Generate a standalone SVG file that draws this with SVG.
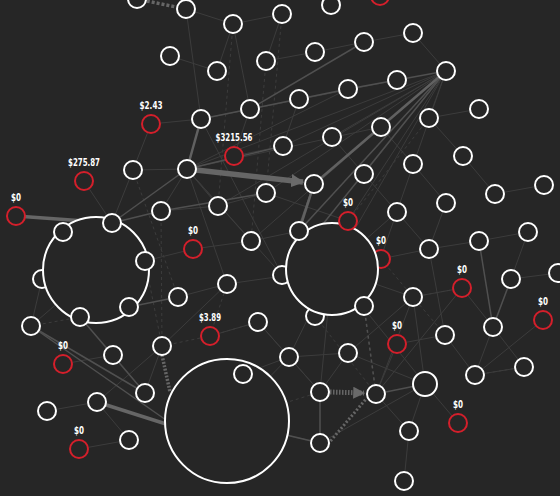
<svg xmlns="http://www.w3.org/2000/svg" width="560" height="496" viewBox="0 0 560 496">
<style>
.bg{fill:#262626}
.n circle{fill:#262626;stroke:#ffffff;stroke-width:2}
.r circle{fill:#262626;stroke:#d41f2b;stroke-width:2}
.big circle{fill:#262626;stroke:#ffffff;stroke-width:2}
.lbl{font-family:"DejaVu Sans Condensed","DejaVu Sans",sans-serif;font-weight:bold;font-size:11px;fill:#ffffff;text-anchor:middle}
.e1{stroke:#3c3c3c;stroke-width:1;fill:none}
.e2{stroke:#505050;stroke-width:1.5;fill:none}
.e3{stroke:#616161;stroke-width:2.5;fill:none}
.e4{stroke:#666666;stroke-width:3.5;fill:none}
.d{stroke-dasharray:3 3}
</style>
<defs>
<marker id="arr" viewBox="0 0 10 10" refX="9" refY="5" markerWidth="2.4" markerHeight="2.4" orient="auto">
<path d="M0,0 L10,5 L0,10 z" fill="#6a6a6a"/>
</marker>
</defs>
<rect class="bg" x="0" y="0" width="560" height="496"/>
<g id="connectors">
<!-- faint -->
<line class="e1" x1="186" y1="9" x2="233" y2="24"/>
<line class="e1" x1="233" y1="24" x2="282" y2="14"/>
<line class="e1" x1="282" y1="14" x2="266" y2="61"/>
<line class="e1" x1="266" y1="61" x2="315" y2="52"/>
<line class="e1" x1="315" y1="52" x2="364" y2="42"/>
<line class="e1" x1="364" y1="42" x2="413" y2="33"/>
<line class="e1" x1="170" y1="56" x2="217" y2="71"/>
<line class="e1" x1="217" y1="71" x2="233" y2="24"/>
<line class="e1" x1="186" y1="9" x2="201" y2="119"/>
<line class="e1" x1="151" y1="124" x2="201" y2="119"/>
<line class="e1" x1="133" y1="170" x2="151" y2="124"/>
<line class="e1" x1="112" y1="223" x2="133" y2="170"/>
<line class="e1" x1="84" y1="181" x2="112" y2="223"/>
<line class="e1" x1="233" y1="24" x2="250" y2="109"/>
<line class="e1 d" x1="233" y1="24" x2="218" y2="206"/>
<line class="e1 d" x1="282" y1="14" x2="266" y2="193"/>
<line class="e1 d" x1="266" y1="61" x2="251" y2="241"/>
<line class="e1" x1="429" y1="118" x2="479" y2="109"/>
<line class="e1" x1="429" y1="118" x2="463" y2="156"/>
<line class="e1" x1="463" y1="156" x2="495" y2="194"/>
<line class="e1" x1="495" y1="194" x2="544" y2="185"/>
<line class="e1" x1="413" y1="164" x2="446" y2="203"/>
<line class="e1" x1="446" y1="203" x2="429" y2="249"/>
<line class="e1" x1="429" y1="249" x2="479" y2="241"/>
<line class="e1" x1="479" y1="241" x2="528" y2="232"/>
<line class="e1" x1="528" y1="232" x2="511" y2="279"/>
<line class="e1" x1="511" y1="279" x2="558" y2="273"/>
<line class="e1" x1="413" y1="297" x2="462" y2="288"/>
<line class="e1" x1="462" y1="288" x2="493" y2="327"/>
<line class="e1" x1="445" y1="335" x2="475" y2="375"/>
<line class="e1" x1="475" y1="375" x2="524" y2="367"/>
<line class="e1" x1="493" y1="327" x2="524" y2="367"/>
<line class="e1" x1="493" y1="327" x2="475" y2="375"/>
<line class="e1" x1="425" y1="384" x2="409" y2="431"/>
<line class="e1" x1="425" y1="384" x2="458" y2="423"/>
<line class="e1" x1="409" y1="431" x2="404" y2="481"/>
<line class="e1" x1="348" y1="353" x2="413" y2="297"/>
<line class="e1" x1="348" y1="353" x2="289" y2="357"/>
<line class="e1" x1="289" y1="357" x2="258" y2="322"/>
<line class="e1" x1="258" y1="322" x2="210" y2="336"/>
<line class="e1" x1="243" y1="374" x2="289" y2="357"/>
<line class="e1" x1="364" y1="174" x2="397" y2="212"/>
<line class="e1" x1="397" y1="212" x2="429" y2="249"/>
<line class="e1" x1="381" y1="127" x2="413" y2="164"/>
<line class="e1" x1="332" y1="137" x2="364" y2="174"/>
<line class="e1" x1="348" y1="353" x2="425" y2="384"/>
<line class="e1" x1="445" y1="335" x2="397" y2="344"/>
<line class="e1" x1="397" y1="344" x2="376" y2="394"/>
<line class="e1" x1="429" y1="249" x2="445" y2="335"/>
<line class="e1" x1="413" y1="297" x2="425" y2="384"/>
<line class="e1" x1="543" y1="320" x2="475" y2="375"/>
<line class="e1" x1="129" y1="440" x2="97" y2="402"/>
<line class="e1" x1="47" y1="411" x2="97" y2="402"/>
<line class="e1" x1="79" y1="449" x2="129" y2="440"/>
<line class="e1" x1="63" y1="364" x2="113" y2="355"/>
<line class="e1" x1="113" y1="355" x2="145" y2="393"/>
<line class="e1" x1="145" y1="393" x2="162" y2="346"/>
<line class="e1" x1="31" y1="326" x2="42" y2="279"/>
<line class="e1" x1="162" y1="346" x2="227" y2="284"/>
<line class="e1" x1="178" y1="297" x2="227" y2="284"/>
<line class="e1" x1="145" y1="261" x2="193" y2="249"/>
<line class="e1" x1="193" y1="249" x2="251" y2="241"/>
<line class="e1" x1="161" y1="211" x2="218" y2="206"/>
<line class="e1" x1="218" y1="206" x2="266" y2="193"/>
<line class="e1" x1="251" y1="241" x2="299" y2="231"/>
<line class="e1" x1="299" y1="99" x2="283" y2="146"/>
<line class="e1" x1="283" y1="146" x2="234" y2="156"/>
<line class="e1" x1="250" y1="109" x2="234" y2="156"/>
<line class="e1" x1="429" y1="118" x2="446" y2="71"/>
<line class="e1" x1="413" y1="33" x2="446" y2="71"/>
<line class="e1" x1="446" y1="71" x2="364" y2="306"/>
<line class="e1" x1="446" y1="71" x2="299" y2="231"/>
<line class="e1" x1="446" y1="71" x2="251" y2="241"/>
<line class="e1" x1="446" y1="71" x2="266" y2="193"/>
<line class="e1" x1="446" y1="71" x2="218" y2="206"/>
<line class="e1" x1="446" y1="71" x2="332" y2="137"/>
<line class="e1" x1="446" y1="71" x2="364" y2="174"/>
<line class="e1" x1="446" y1="71" x2="348" y2="221"/>
<line class="e1" x1="446" y1="71" x2="381" y2="127"/>
<line class="e1" x1="446" y1="71" x2="187" y2="169"/>
<line class="e1" x1="446" y1="71" x2="283" y2="146"/>
<line class="e1" x1="446" y1="71" x2="332" y2="269"/>
<line class="e1" x1="201" y1="119" x2="282" y2="275"/>
<line class="e1" x1="187" y1="169" x2="282" y2="275"/>
<line class="e1" x1="187" y1="169" x2="227" y2="284"/>
<line class="e1" x1="187" y1="169" x2="251" y2="241"/>
<line class="e1" x1="187" y1="169" x2="218" y2="206"/>
<line class="e1" x1="187" y1="169" x2="161" y2="211"/>
<line class="e1" x1="133" y1="170" x2="187" y2="169"/>
<line class="e1" x1="187" y1="169" x2="348" y2="89"/>
<line class="e1" x1="187" y1="169" x2="381" y2="127"/>
<line class="e1" x1="201" y1="119" x2="397" y2="80"/>
<line class="e1" x1="266" y1="193" x2="348" y2="221"/>
<line class="e1" x1="299" y1="231" x2="348" y2="221"/>
<line class="e1" x1="332" y1="269" x2="413" y2="297"/>
<line class="e1" x1="332" y1="269" x2="429" y2="249"/>
<line class="e1" x1="332" y1="269" x2="397" y2="212"/>
<line class="e1" x1="332" y1="269" x2="320" y2="392"/>
<line class="e1" x1="332" y1="269" x2="289" y2="357"/>
<line class="e1" x1="332" y1="269" x2="425" y2="384"/>
<line class="e1" x1="332" y1="269" x2="227" y2="284"/>
<line class="e1" x1="258" y1="322" x2="320" y2="392"/>
<line class="e1" x1="320" y1="392" x2="289" y2="357"/>
<line class="e1" x1="320" y1="392" x2="348" y2="353"/>
<line class="e1" x1="320" y1="443" x2="425" y2="384"/>
<line class="e1" x1="376" y1="394" x2="409" y2="431"/>
<line class="e1" x1="376" y1="394" x2="413" y2="297"/>
<line class="e1" x1="376" y1="394" x2="462" y2="288"/>
<line class="e1" x1="97" y1="402" x2="162" y2="346"/>
<line class="e1" x1="227" y1="421" x2="289" y2="357"/>
<line class="e1" x1="96" y1="270" x2="31" y2="326"/>
<!-- dashed faint -->
<line class="e1 d" x1="31" y1="326" x2="80" y2="317"/>
<line class="e1 d" x1="162" y1="346" x2="210" y2="336"/>
<line class="e1 d" x1="210" y1="336" x2="258" y2="322"/>
<line class="e1 d" x1="210" y1="336" x2="227" y2="284"/>
<line class="e1 d" x1="161" y1="211" x2="162" y2="346"/>
<line class="e1 d" x1="133" y1="170" x2="178" y2="297"/>
<line class="e1 d" x1="145" y1="261" x2="162" y2="346"/>
<line class="e1 d" x1="429" y1="118" x2="348" y2="221"/>
<line class="e1 d" x1="227" y1="421" x2="320" y2="443"/>
<line class="e1 d" x1="227" y1="421" x2="320" y2="392"/>
<line class="e1 d" x1="315" y1="316" x2="376" y2="394"/>
<line class="e1 d" x1="364" y1="306" x2="376" y2="394"/>
<line class="e1 d" x1="381" y1="259" x2="445" y2="335"/>
<line class="e1 d" x1="462" y1="288" x2="413" y2="297"/>
<line class="e1 d" x1="475" y1="375" x2="524" y2="367"/>
<!-- medium -->
<line class="e2" x1="201" y1="119" x2="250" y2="109"/>
<line class="e2" x1="250" y1="109" x2="299" y2="99"/>
<line class="e2" x1="299" y1="99" x2="348" y2="89"/>
<line class="e2" x1="348" y1="89" x2="397" y2="80"/>
<line class="e2" x1="397" y1="80" x2="446" y2="71"/>
<line class="e2" x1="250" y1="109" x2="364" y2="42"/>
<line class="e2" x1="187" y1="169" x2="283" y2="146"/>
<line class="e2" x1="112" y1="223" x2="161" y2="211"/>
<line class="e2" x1="112" y1="223" x2="187" y2="169"/>
<line class="e2" x1="161" y1="211" x2="266" y2="193"/>
<line class="e2" x1="446" y1="71" x2="282" y2="275"/>
<line class="e2" x1="446" y1="71" x2="299" y2="231"/>
<line class="e2" x1="314" y1="184" x2="282" y2="275"/>
<line class="e2" x1="129" y1="307" x2="178" y2="297"/>
<line class="e2" x1="31" y1="326" x2="145" y2="393"/>
<line class="e2" x1="31" y1="326" x2="166" y2="420"/>
<line class="e2" x1="80" y1="317" x2="145" y2="393"/>
<line class="e2" x1="320" y1="392" x2="320" y2="443"/>
<line class="e2" x1="376" y1="394" x2="425" y2="384"/>
<line class="e2" x1="479" y1="241" x2="493" y2="327"/>
<line class="e2" x1="511" y1="279" x2="493" y2="327"/>
<line class="e2" x1="227" y1="421" x2="320" y2="443"/>
<line class="e2 d" x1="364" y1="306" x2="376" y2="394"/>
<!-- strong -->
<line class="e3" x1="201" y1="119" x2="187" y2="169"/>
<line class="e3" x1="314" y1="184" x2="299" y2="231"/>
<line class="e3" x1="446" y1="71" x2="314" y2="184"/>
<line class="e4" x1="16" y1="216" x2="112" y2="223"/>
<line class="e4" x1="97" y1="402" x2="166" y2="424"/>
<line class="e4" x1="137" y1="-1" x2="186" y2="9" stroke-dasharray="3 2"/>
<line class="e4" x1="162" y1="355" x2="170" y2="392" stroke-dasharray="2 1.5"/>
<line x1="328" y1="444" x2="366" y2="399" stroke="#666" stroke-width="3" stroke-dasharray="2 2"/>
<line x1="196" y1="170" x2="303" y2="182" stroke="#666" stroke-width="5.5" marker-end="url(#arr)"/>
<line x1="330" y1="392" x2="364" y2="393" stroke="#666" stroke-width="5" stroke-dasharray="1.5 1.5" marker-end="url(#arr)"/>
</g>
<g id="nodes">
<g id="n41" class="n"><circle cx="42" cy="279" r="9"/></g>
<g id="n47" class="n"><circle cx="282" cy="275" r="9"/></g>
<g id="n55" class="n"><circle cx="315" cy="316" r="9"/></g>
<g id="r8" class="r"><circle cx="381" cy="259" r="9"/><text class="lbl" x="381" y="244" textLength="10" lengthAdjust="spacingAndGlyphs">$0</text></g>
<g id="big1" class="big"><circle cx="96" cy="270" r="53"/></g>
<g id="big2" class="big"><circle cx="332" cy="269" r="46"/></g>
<g id="big3" class="big"><circle cx="227" cy="421" r="62"/></g>
<g id="n1" class="n"><circle cx="137" cy="-1" r="9"/></g>
<g id="n2" class="n"><circle cx="186" cy="9" r="9"/></g>
<g id="n3" class="n"><circle cx="233" cy="24" r="9"/></g>
<g id="n4" class="n"><circle cx="282" cy="14" r="9"/></g>
<g id="n5" class="n"><circle cx="331" cy="5" r="9"/></g>
<g id="n6" class="n"><circle cx="170" cy="56" r="9"/></g>
<g id="n7" class="n"><circle cx="217" cy="71" r="9"/></g>
<g id="n8" class="n"><circle cx="266" cy="61" r="9"/></g>
<g id="n9" class="n"><circle cx="315" cy="52" r="9"/></g>
<g id="n10" class="n"><circle cx="364" cy="42" r="9"/></g>
<g id="n11" class="n"><circle cx="413" cy="33" r="9"/></g>
<g id="n12" class="n"><circle cx="446" cy="71" r="9"/></g>
<g id="n13" class="n"><circle cx="397" cy="80" r="9"/></g>
<g id="n14" class="n"><circle cx="348" cy="89" r="9"/></g>
<g id="n15" class="n"><circle cx="299" cy="99" r="9"/></g>
<g id="n16" class="n"><circle cx="250" cy="109" r="9"/></g>
<g id="n17" class="n"><circle cx="201" cy="119" r="9"/></g>
<g id="n18" class="n"><circle cx="429" cy="118" r="9"/></g>
<g id="n19" class="n"><circle cx="479" cy="109" r="9"/></g>
<g id="n20" class="n"><circle cx="381" cy="127" r="9"/></g>
<g id="n21" class="n"><circle cx="332" cy="137" r="9"/></g>
<g id="n22" class="n"><circle cx="283" cy="146" r="9"/></g>
<g id="n23" class="n"><circle cx="463" cy="156" r="9"/></g>
<g id="n24" class="n"><circle cx="413" cy="164" r="9"/></g>
<g id="n25" class="n"><circle cx="364" cy="174" r="9"/></g>
<g id="n26" class="n"><circle cx="314" cy="184" r="9"/></g>
<g id="n27" class="n"><circle cx="187" cy="169" r="9"/></g>
<g id="n28" class="n"><circle cx="133" cy="170" r="9"/></g>
<g id="n29" class="n"><circle cx="266" cy="193" r="9"/></g>
<g id="n30" class="n"><circle cx="218" cy="206" r="9"/></g>
<g id="n31" class="n"><circle cx="161" cy="211" r="9"/></g>
<g id="n32" class="n"><circle cx="495" cy="194" r="9"/></g>
<g id="n33" class="n"><circle cx="544" cy="185" r="9"/></g>
<g id="n34" class="n"><circle cx="446" cy="203" r="9"/></g>
<g id="n35" class="n"><circle cx="397" cy="212" r="9"/></g>
<g id="n36" class="n"><circle cx="299" cy="231" r="9"/></g>
<g id="n37" class="n"><circle cx="251" cy="241" r="9"/></g>
<g id="n38" class="n"><circle cx="112" cy="223" r="9"/></g>
<g id="n39" class="n"><circle cx="63" cy="232" r="9"/></g>
<g id="n40" class="n"><circle cx="145" cy="261" r="9"/></g>
<g id="n42" class="n"><circle cx="129" cy="307" r="9"/></g>
<g id="n43" class="n"><circle cx="80" cy="317" r="9"/></g>
<g id="n44" class="n"><circle cx="31" cy="326" r="9"/></g>
<g id="n45" class="n"><circle cx="178" cy="297" r="9"/></g>
<g id="n46" class="n"><circle cx="227" cy="284" r="9"/></g>
<g id="n48" class="n"><circle cx="429" cy="249" r="9"/></g>
<g id="n49" class="n"><circle cx="479" cy="241" r="9"/></g>
<g id="n50" class="n"><circle cx="528" cy="232" r="9"/></g>
<g id="n51" class="n"><circle cx="511" cy="279" r="9"/></g>
<g id="n52" class="n"><circle cx="558" cy="273" r="9"/></g>
<g id="n53" class="n"><circle cx="413" cy="297" r="9"/></g>
<g id="n54" class="n"><circle cx="364" cy="306" r="9"/></g>
<g id="n56" class="n"><circle cx="258" cy="322" r="9"/></g>
<g id="n57" class="n"><circle cx="162" cy="346" r="9"/></g>
<g id="n58" class="n"><circle cx="113" cy="355" r="9"/></g>
<g id="n59" class="n"><circle cx="289" cy="357" r="9"/></g>
<g id="n60" class="n"><circle cx="348" cy="353" r="9"/></g>
<g id="n61" class="n"><circle cx="493" cy="327" r="9"/></g>
<g id="n62" class="n"><circle cx="445" cy="335" r="9"/></g>
<g id="n63" class="n"><circle cx="524" cy="367" r="9"/></g>
<g id="n64" class="n"><circle cx="475" cy="375" r="9"/></g>
<g id="n65" class="n"><circle cx="425" cy="384" r="12"/></g>
<g id="n66" class="n"><circle cx="320" cy="392" r="9"/></g>
<g id="n67" class="n"><circle cx="376" cy="394" r="9"/></g>
<g id="n68" class="n"><circle cx="243" cy="374" r="9"/></g>
<g id="n69" class="n"><circle cx="145" cy="393" r="9"/></g>
<g id="n70" class="n"><circle cx="97" cy="402" r="9"/></g>
<g id="n71" class="n"><circle cx="47" cy="411" r="9"/></g>
<g id="n72" class="n"><circle cx="129" cy="440" r="9"/></g>
<g id="n73" class="n"><circle cx="409" cy="431" r="9"/></g>
<g id="n74" class="n"><circle cx="320" cy="443" r="9"/></g>
<g id="n75" class="n"><circle cx="404" cy="481" r="9"/></g>
<g id="r1" class="r"><circle cx="380" cy="-4" r="9"/></g>
<g id="r2" class="r"><circle cx="151" cy="124" r="9"/><text class="lbl" x="151" y="109" textLength="23" lengthAdjust="spacingAndGlyphs">$2.43</text></g>
<g id="r3" class="r"><circle cx="234" cy="156" r="9"/><text class="lbl" x="234" y="141" textLength="37" lengthAdjust="spacingAndGlyphs">$3215.56</text></g>
<g id="r4" class="r"><circle cx="84" cy="181" r="9"/><text class="lbl" x="84" y="166" textLength="32" lengthAdjust="spacingAndGlyphs">$275.87</text></g>
<g id="r5" class="r"><circle cx="16" cy="216" r="9"/><text class="lbl" x="16" y="201" textLength="10" lengthAdjust="spacingAndGlyphs">$0</text></g>
<g id="r6" class="r"><circle cx="193" cy="249" r="9"/><text class="lbl" x="193" y="234" textLength="10" lengthAdjust="spacingAndGlyphs">$0</text></g>
<g id="r7" class="r"><circle cx="348" cy="221" r="9"/><text class="lbl" x="348" y="206" textLength="10" lengthAdjust="spacingAndGlyphs">$0</text></g>
<g id="r9" class="r"><circle cx="462" cy="288" r="9"/><text class="lbl" x="462" y="273" textLength="10" lengthAdjust="spacingAndGlyphs">$0</text></g>
<g id="r10" class="r"><circle cx="543" cy="320" r="9"/><text class="lbl" x="543" y="305" textLength="10" lengthAdjust="spacingAndGlyphs">$0</text></g>
<g id="r11" class="r"><circle cx="210" cy="336" r="9"/><text class="lbl" x="210" y="321" textLength="22" lengthAdjust="spacingAndGlyphs">$3.89</text></g>
<g id="r12" class="r"><circle cx="397" cy="344" r="9"/><text class="lbl" x="397" y="329" textLength="10" lengthAdjust="spacingAndGlyphs">$0</text></g>
<g id="r13" class="r"><circle cx="63" cy="364" r="9"/><text class="lbl" x="63" y="349" textLength="10" lengthAdjust="spacingAndGlyphs">$0</text></g>
<g id="r14" class="r"><circle cx="458" cy="423" r="9"/><text class="lbl" x="458" y="408" textLength="10" lengthAdjust="spacingAndGlyphs">$0</text></g>
<g id="r15" class="r"><circle cx="79" cy="449" r="9"/><text class="lbl" x="79" y="434" textLength="10" lengthAdjust="spacingAndGlyphs">$0</text></g>
</g>
</svg>
